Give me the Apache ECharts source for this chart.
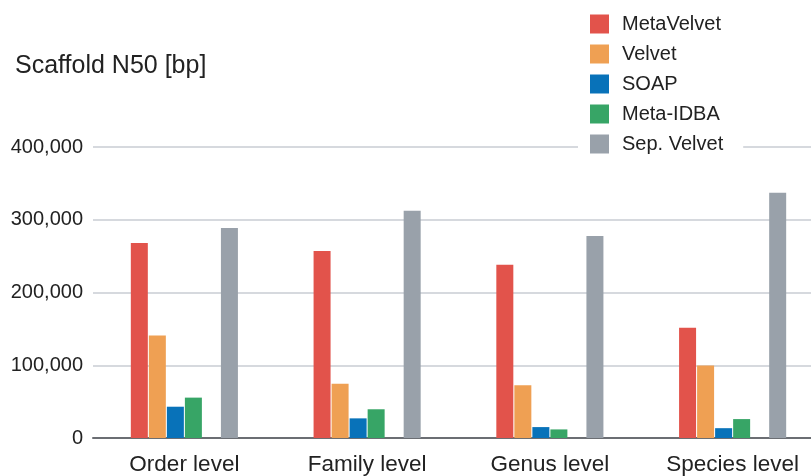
<!DOCTYPE html>
<html>
<head>
<meta charset="utf-8">
<script src="https://cdn.jsdelivr.net/npm/echarts@6/dist/echarts.min.js"></script>
<style>html,body{margin:0;padding:0;background:#fff;overflow:hidden}#c{width:824px;height:476px}</style>
</head>
<body>
<div id="c"></div>
<script>
const categories = ['Order level', 'Family level', 'Genus level', 'Species level'];
const metaVelvet = [268000, 257000, 238000, 151500];
const velvet = [141000, 74500, 72500, 99700];
const soap = [43000, 27000, 15000, 13500];
const metaIDBA = [55500, 39500, 11800, 26000];
const emptySlot = [null, null, null, null];
const sepVelvet = [288500, 312500, 277500, 337000];
const yTicks = [0, 100000, 200000, 300000, 400000];

const colors = ['#E2534B', '#EFA053', '#0872B9', '#37A566', '#ffffff', '#99A1AA'];
const names = ['MetaVelvet', 'Velvet', 'SOAP', 'Meta-IDBA', ' ', 'Sep. Velvet'];
const datas = [metaVelvet, velvet, soap, metaIDBA, emptySlot, sepVelvet];

const chart = echarts.init(document.getElementById('c'));
const font = 'Liberation Sans, Arial, Helvetica, sans-serif';
chart.setOption({
  animation: false,
  textStyle: { fontFamily: font },
  title: {
    text: 'Scaffold N50 [bp]',
    left: 10, top: 49,
    textStyle: { fontFamily: font, fontSize: 25, fontWeight: 'normal', color: '#222' }
  },
  legend: {
    orient: 'vertical',
    left: 578, top: 0,
    padding: [14, 20, 6, 12],
    itemWidth: 19, itemHeight: 19, itemGap: 10,
    backgroundColor: '#fff',
    data: ['MetaVelvet', 'Velvet', 'SOAP', 'Meta-IDBA', 'Sep. Velvet'],
    icon: 'rect',
    textStyle: { fontFamily: font, fontSize: 20, color: '#222', padding: [0, 0, 0, 8] }
  },
  grid: { left: 93, top: 147, right: 0, bottom: 36 },
  xAxis: {
    type: 'category',
    data: categories,
    axisTick: { show: false },
    axisLine: { lineStyle: { color: '#6b6e73', width: 2 } },
    axisLabel: { fontFamily: font, fontSize: 22.5, color: '#222', margin: 15 }
  },
  yAxis: {
    type: 'value',
    min: yTicks[0], max: yTicks[yTicks.length - 1], interval: 100000,
    axisLine: { show: false },
    axisTick: { show: false },
    splitLine: { lineStyle: { color: '#c9ccd3', width: 1.5 } },
    axisLabel: {
      fontFamily: font, fontSize: 20, color: '#222', margin: 10,
      formatter: v => v.toLocaleString('en-US')
    }
  },
  series: datas.map((d, i) => ({
    name: names[i],
    type: 'bar',
    data: d,
    barWidth: 17,
    barGap: '6%',
    itemStyle: { color: colors[i] },
    z: 1
  }))
});
</script>
</body>
</html>
